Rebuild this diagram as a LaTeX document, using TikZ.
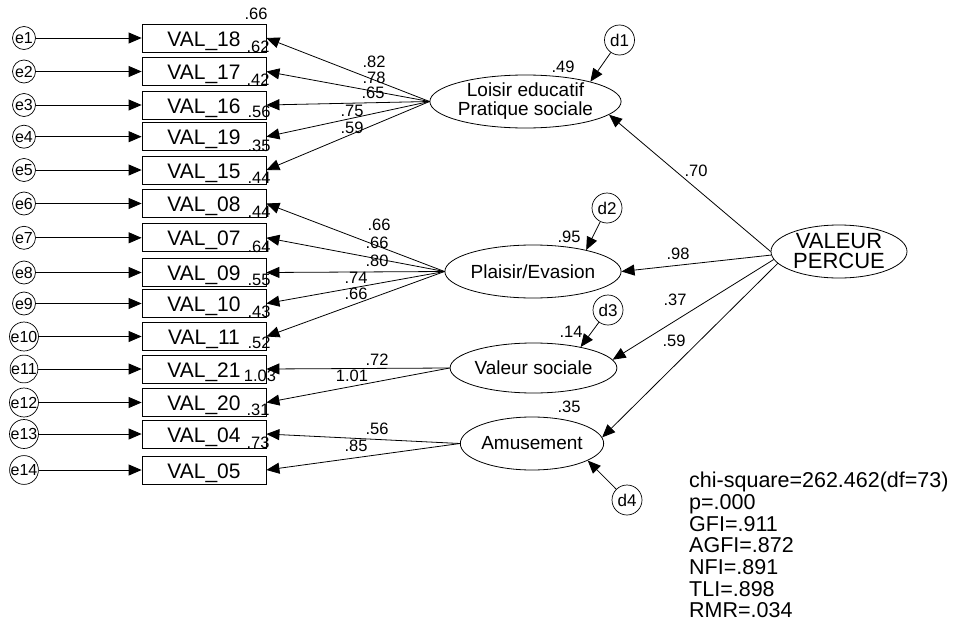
\documentclass[tikz,border=0pt]{standalone}
\usepackage{fontspec}
\setmainfont{Liberation Sans}
\usetikzlibrary{arrows.meta,shapes.geometric}
\tikzset{
    obsbox/.style={draw,line width=0.8pt,minimum width=124pt,minimum height=28pt,
        inner sep=0pt,text height=16pt,text depth=-2pt,font=\fontsize{21}{22}\selectfont},
    errc/.style={draw,circle,line width=0.7pt,minimum size=23pt,inner sep=0pt,
        font=\fontsize{16}{17}\selectfont},
    distc/.style={draw,circle,line width=0.7pt,minimum size=30pt,inner sep=0pt,
        font=\fontsize{17}{18}\selectfont},
    latent/.style={draw,ellipse,line width=0.8pt,minimum width=137pt,minimum height=53pt,
        inner sep=0pt,align=center,font=\fontsize{19}{19}\selectfont},
    coef/.style={inner sep=0pt,font=\fontsize{16.5}{17}\selectfont},
    reg/.style={line width=0.8pt,-{Triangle[length=13pt,width=11pt]}}
}
\begin{document}
\begin{tikzpicture}[x=1pt,y=-1pt]
            \useasboundingbox (0,0) rectangle (954,624);
            % observed variables and their errors
            \foreach \n/\v/\y in {1/18/38,2/17/71.5,3/16/105,4/19/136.7,5/15/170,
                6/08/203.5,7/07/237.8,8/09/272.5,9/10/303.5,10/11/336.5,
                11/21/369,12/20/402.5,13/04/434,14/05/470}
            {
                \node[obsbox] (v\n) at (204,\y) {VAL\_\v};
                \node[errc] (e\n) at (24,\y) {e\n};
                \draw[reg] (e\n) -- (v\n);
            }
            % squared multiple correlations
            \foreach \n/\x/\y/\t in {1/256/14/.66,2/258/47/.62,3/258/80/.42,4/259/112/.56,
                5/259/146/.35,6/259/178/.44,7/259/212/.44,8/259/247/.64,9/259/280/.55,
                10/259/312/.43,11/259/343/.52,12/260/376/1.03,13/258/410/.31,14/258/443/.73}
            {
                \node[coef] (r\n) at (\x,\y) {\t};
            }
            % latent factors
            \node[latent] (loisir) at (525.5,101.5) {Loisir educatif\\Pratique sociale};
            \node[latent,minimum width=138pt] (plaisir) at (533,271.5) {Plaisir/Evasion};
            \node[latent,minimum height=50pt] (sociale) at (533.5,368) {Valeur sociale};
            \node[latent,minimum width=138pt] (amus) at (532,443.5) {Amusement};
            \node[latent,minimum width=136pt,font=\fontsize{22}{20}\selectfont]
                (vp) at (839,251.5) {VALEUR\\PERCUE};
            % disturbances
            \node[distc] (d1) at (619.5,40) {d1};
            \node[distc] (d2) at (607,208) {d2};
            \node[distc] (d3) at (608,310) {d3};
            \node[distc] (d4) at (627,500) {d4};
            \draw[reg] (d1) -- (loisir.17);
            \draw[reg] (d2) -- (plaisir.22);
            \draw[reg] (d3) -- (sociale.24);
            \draw[reg] (d4) -- (amus.-17);
            % loadings
            \foreach \i in {1,...,5} {\draw[reg] (loisir.west) -- (v\i.east);}
            \foreach \i in {6,...,10} {\draw[reg] (plaisir.west) -- (v\i.east);}
            \foreach \i in {11,12} {\draw[reg] (sociale.west) -- (v\i.east);}
            \foreach \i in {13,14} {\draw[reg] (amus.west) -- (v\i.east);}
            \foreach \n/\x/\y/\t in {1/374/62/.82,2/374/78/.78,3/373/93/.65,4/352/111/.75,
                5/352/128/.59,6/379/225/.66,7/377/243/.66,8/377/261/.80,9/356/278/.74,
                10/356/294/.66,11/377/360/.72,12/352/376/1.01,13/377/429/.56,14/356/446/.85}
            {
                \node[coef] (l\n) at (\x,\y) {\t};
            }
            % second order
            \draw[reg] (vp.west) -- (loisir.-9);
            \draw[reg] (vp.183) -- (plaisir.east);
            \draw[reg] (vp.187) -- (sociale.6);
            \draw[reg] (vp.191) -- (amus.5);
            \node[coef] (g1) at (696,171) {.70};
            \node[coef] (g2) at (678,254) {.98};
            \node[coef] (g3) at (675,300) {.37};
            \node[coef] (g4) at (674,341) {.59};
            \node[coef] (s1) at (563,67) {.49};
            \node[coef] (s2) at (569,237) {.95};
            \node[coef] (s3) at (571,332) {.14};
            \node[coef] (s4) at (569,407) {.35};
            % fit indices
            \node[anchor=north west,inner sep=0pt,align=left,font=\fontsize{21.5}{21.7}\selectfont]
                (fit) at (689,472) {chi-square=262.462(df=73)\\p=.000\\GFI=.911\\AGFI=.872\\NFI=.891\\TLI=.898\\RMR=.034};
\end{tikzpicture}
\end{document}
